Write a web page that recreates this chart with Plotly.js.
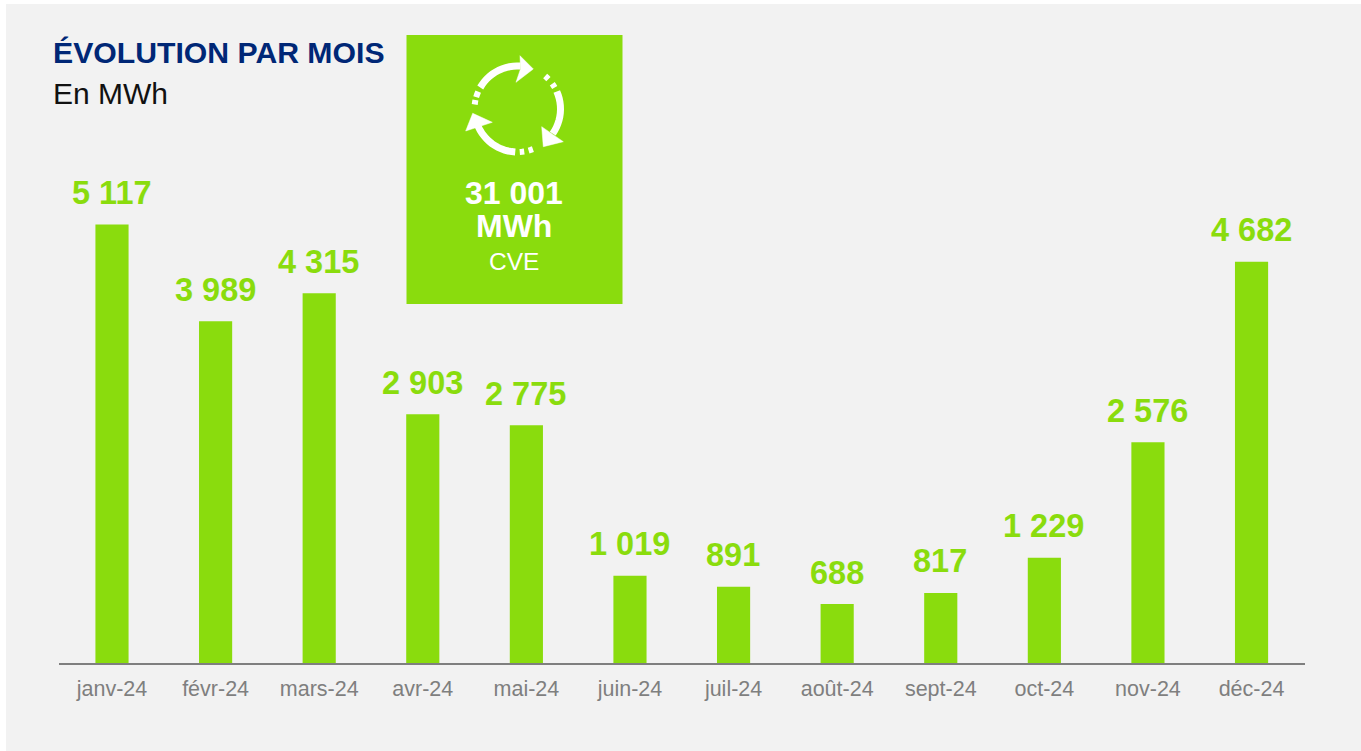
<!DOCTYPE html>
<html><head><meta charset="utf-8">
<script src="https://cdn.plot.ly/plotly-3.0.1.min.js"></script>
<style>html,body{margin:0;padding:0;background:#fff;overflow:hidden}#c{position:absolute;left:6px;top:4px;width:1355px;height:747px}</style>
</head><body><div id="c"></div>
<script>
const months = ['janv-24','févr-24','mars-24','avr-24','mai-24','juin-24','juil-24','août-24','sept-24','oct-24','nov-24','déc-24'];
const mwh = [5117,3989,4315,2903,2775,1019,891,688,817,1229,2576,4682];
const titleText = 'ÉVOLUTION PAR MOIS';
const subtitleText = 'En MWh';
const totalValue = '31 001';
const totalUnit = 'MWh';
const totalLabel = 'CVE';

const GREEN = '#8adc0d', FONT = '"Liberation Sans", Arial, sans-serif';
const W = 1355, H = 747, M = {l:53, r:56, t:96, b:88, pad:0};
const PW = W-M.l-M.r, PH = H-M.t-M.b;
const px = X => (X-6-M.l)/PW;
const py = Y => 1-(Y-4-M.t)/PH;
const fmt = v => String(v).replace(/\B(?=(\d{3})+$)/g,' ');

// recycling icon, screen-pixel geometry converted to paper coordinates
const CX = 517.5, CY = 109, R = 43;
const pt = (X,Y) => px(X).toFixed(5)+','+py(Y).toFixed(5);
function arc(a0,a1){
  let d='';
  const n=Math.max(2,Math.ceil(Math.abs(a1-a0)/5));
  for(let i=0;i<=n;i++){
    const t=(a0+(a1-a0)*i/n)*Math.PI/180;
    d+=(i?'L':'M')+pt(CX+R*Math.sin(t),CY-R*Math.cos(t));
  }
  return d;
}
const poly = ps => 'M'+ps.map(p=>pt(p[0],p[1])).join('L')+'Z';
const mainArcs = [[-60,4],[66,125],[183,250]];
const dashArcs = [[-74,-66],[-84,-78],[40,46],[54,60],[171,177],[159,165]];
const heads = [
  [[520,55.7],[533.3,69],[516,82.3],[520.5,69]],
  [[541.7,126.7],[563.3,141.7],[543.3,146.7]],
  [[465.7,131],[472.7,113.3],[492.3,122.3]]
];
const arcShape = (a,w) => ({type:'path',xref:'paper',yref:'paper',path:arc(a[0],a[1]),line:{color:'#fff',width:w},fillcolor:'rgba(0,0,0,0)'});
const shapes = [
  {type:'rect',xref:'paper',yref:'paper',x0:px(406.5),x1:px(622.5),y0:py(304),y1:py(35),fillcolor:GREEN,line:{width:0},layer:'below'},
  ...mainArcs.map(a=>arcShape(a,7)),
  ...dashArcs.map(a=>arcShape(a,6)),
  ...heads.map(h=>({type:'path',xref:'paper',yref:'paper',path:poly(h),line:{color:'#fff',width:0.5},fillcolor:'#fff'}))
];
const note = (text,X,Y,size,color,bold,anchor) => ({
  text: bold?'<b>'+text+'</b>':text, xref:'paper',yref:'paper',x:px(X),y:py(Y),
  xanchor:anchor,yanchor:'middle',showarrow:false,
  font:{family:FONT,size:size,color:color},borderpad:0,borderwidth:0
});
const annotations = [
  note(titleText,53,53,30.2,'#002776',true,'left'),
  note(subtitleText,53,93,30,'#111111',false,'left'),
  note(totalValue,514.5,193,32,'#fff',true,'center'),
  note(totalUnit,514.5,226,32,'#fff',true,'center'),
  note(totalLabel,514.5,261,24.5,'#fff',false,'center'),
  ...months.map((m,i)=>({
    text:'<b>'+fmt(mwh[i])+'</b>',xref:'x',yref:'y',x:m,y:mwh[i],xanchor:'center',yanchor:'middle',yshift:31.5,xshift:-0.5,
    showarrow:false,font:{family:FONT,size:32.5,color:GREEN},borderpad:0
  }))
];
Plotly.newPlot('c',[{
  type:'bar',x:months,y:mwh,width:0.32,
  marker:{color:GREEN,line:{width:0}},
  cliponaxis:false,
  hoverinfo:'x+y'
}],{
  width:W,height:H,margin:M,showlegend:false,
  paper_bgcolor:'#f2f2f2',plot_bgcolor:'rgba(0,0,0,0)',
  font:{family:FONT},
  xaxis:{type:'category',categoryorder:'array',categoryarray:months,range:[-0.5116,11.516],showline:true,linecolor:'#7f7f7f',linewidth:1.5,
    ticks:'',ticklabelstandoff:6,tickfont:{family:FONT,size:21.5,color:'#7f7f7f'},showgrid:false,zeroline:false,fixedrange:true},
  yaxis:{range:[0,6570],visible:false,showgrid:false,zeroline:false,fixedrange:true},
  shapes:shapes,annotations:annotations
},{displayModeBar:false,staticPlot:true});
</script></body></html>
